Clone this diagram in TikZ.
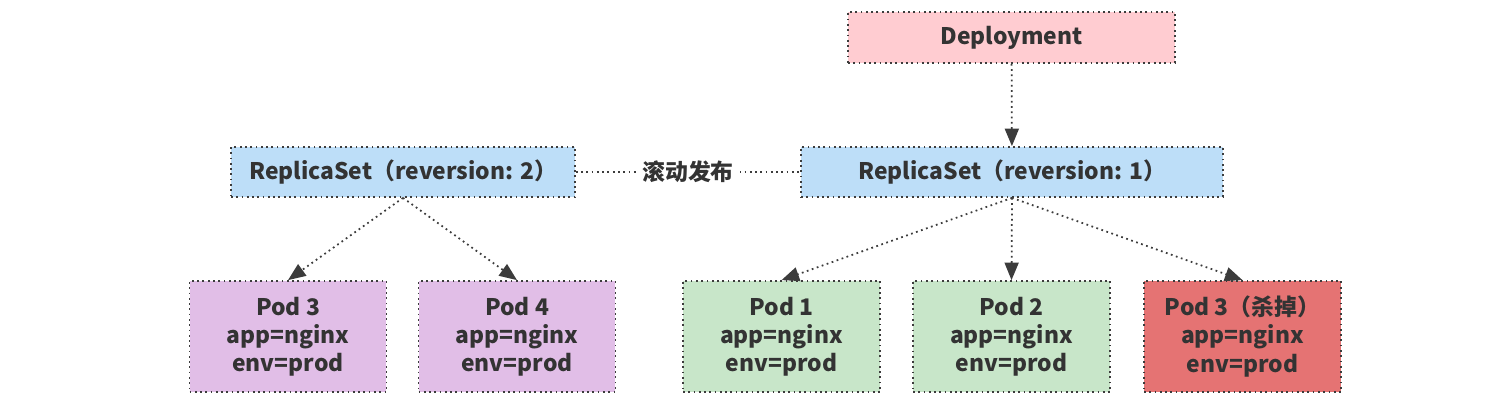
\documentclass[tikz,border=0pt]{standalone}
\usepackage{fontspec}
\setmainfont{Noto Sans CJK SC}
\usetikzlibrary{arrows.meta}
\definecolor{DeployClr}{RGB}{255,204,209}
\definecolor{RsClr}{RGB}{189,222,248}
\definecolor{NewPodClr}{RGB}{225,190,231}
\definecolor{OldPodClr}{RGB}{200,230,201}
\definecolor{KillClr}{RGB}{229,115,115}
\definecolor{LineClr}{RGB}{60,60,60}
\definecolor{TextClr}{RGB}{51,51,51}

\begin{document}
\begin{tikzpicture}[x=0.02cm,y=-0.02cm,
  box/.style={draw=LineClr,dotted,line width=1pt,text=TextClr,align=center,inner sep=0pt,
    font=\bfseries\fontsize{13}{16}\selectfont},
  podbox/.style={box,minimum width=3.94cm,minimum height=2.22cm},
  link/.style={draw=LineClr,dotted,line width=1pt,-{Triangle[length=10pt,width=8pt]}}]
\useasboundingbox (0,0) rectangle (1503,408);

% top level
\node[box,fill=DeployClr,minimum width=6.54cm,minimum height=1.02cm] (deploy) at (1011.5,37.5) {Deployment};

% replica sets
\node[box,fill=RsClr,minimum width=6.88cm,minimum height=1cm] (rs2) at (403,172) {ReplicaSet（reversion: 2）};
\node[box,fill=RsClr,minimum width=8.44cm,minimum height=1cm] (rs1) at (1012,172) {ReplicaSet（reversion: 1）};

% pods
\node[podbox,fill=NewPodClr] (pod3) at (288,336.5) {Pod 3\\app=nginx\\env=prod};
\node[podbox,fill=NewPodClr] (pod4) at (517,336.5) {Pod 4\\app=nginx\\env=prod};
\node[podbox,fill=OldPodClr] (pod1) at (781.5,336.5) {Pod 1\\app=nginx\\env=prod};
\node[podbox,fill=OldPodClr] (pod2) at (1011.5,336.5) {Pod 2\\app=nginx\\env=prod};
\node[podbox,fill=KillClr] (pod3k) at (1242.5,336.5) {Pod 3（杀掉）\\app=nginx\\env=prod};

\draw[link] (deploy) -- (rs1);
\draw[draw=LineClr,dotted,line width=1pt] (rs2) -- node[fill=white,text=TextClr,font=\bfseries\fontsize{13}{16}\selectfont]{滚动发布} (rs1);

\draw[link] (rs2.south) -- (pod3.north);
\draw[link] (rs2.south) -- (pod4.north);
\draw[link] (rs1.south) -- (pod1.north);
\draw[link] (rs1.south) -- (pod2.north);
\draw[link] (rs1.south) -- (pod3k.north);

\end{tikzpicture}
\end{document}
